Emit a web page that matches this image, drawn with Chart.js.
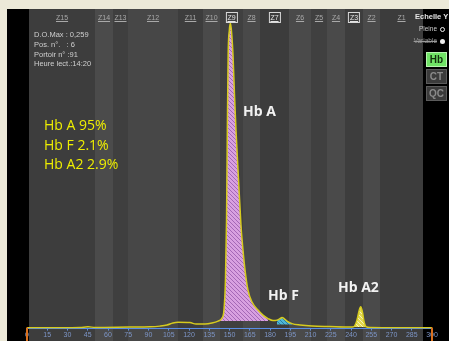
<!DOCTYPE html>
<html>
<head>
<meta charset="utf-8">
<script src="https://cdn.jsdelivr.net/npm/chart.js@4"></script>
<style>
  html, body { margin: 0; padding: 0; background: #000000; overflow: hidden; }
  #wrap { position: relative; width: 449px; height: 341px; overflow: hidden; background: #000000; }
  canvas { position: absolute; left: 0; top: 0; width: 449px; height: 341px; }
  .t { position: absolute; white-space: pre; line-height: 1; }
  .info { font-family: 'Liberation Sans', Arial, sans-serif; font-size: 7.5px; color: #cfcfcf; left: 34px; }
  .pct { font-family: 'Open Sans', sans-serif; font-size: 14px; color: #eeee00; left: 44px; }
  .peak { font-family: 'Open Sans', sans-serif; font-weight: bold; font-size: 14px; color: #f2f2f2; }
  .zone { font-family: 'Liberation Sans', Arial, sans-serif; font-size: 7px; color: #a9a9a9; text-decoration: underline; transform: translateX(-50%); top: 13.6px; }
  .zone.box { border: 1px solid #d8d8d8; padding: 1px 1px; color: #e4e4e4; top: 11.5px; }
  .side { font-family: 'Liberation Sans', Arial, sans-serif; }
  .btn { position: absolute; left: 426px; width: 19px; height: 13px; font-family: 'Liberation Sans', Arial, sans-serif;
         font-weight: bold; font-size: 10px; line-height: 13px; text-align: center; }
  .dot { position: absolute; border-radius: 50%; }
</style>
</head>
<body>
<div id="wrap">
  <canvas id="c" width="449" height="341"></canvas>

  <div class="t info" style="top:30.8px">D.O.Max : 0,259</div>
  <div class="t info" style="top:41.3px">Pos. n°.   : 6</div>
  <div class="t info" style="top:51px">Portoir n° :91</div>
  <div class="t info" style="top:60.3px">Heure lect.:14:20</div>

  <div class="t pct" style="top:117.6px">Hb A 95%</div>
  <div class="t pct" style="top:137.6px">Hb F 2.1%</div>
  <div class="t pct" style="top:156.6px">Hb A2 2.9%</div>

  <div class="t peak" style="left:243px; top:103.6px">Hb A</div>
  <div class="t peak" style="left:268px; top:288px">Hb F</div>
  <div class="t peak" style="left:338px; top:280px">Hb A2</div>

  <div class="t side" style="left:415px; top:13.3px; font-size:7.5px; font-weight:bold; color:#e6e6e6">Echelle Y</div>
  <div class="t side" style="right:12px; top:25.8px; font-size:6.5px; color:#cfcfcf">Pleine</div>
  <div class="dot" style="left:440px; top:27px; width:3px; height:3px; border:1px solid #eeeeee"></div>
  <div class="t side" style="right:12px; top:37.8px; font-size:6.5px; color:#9a9a9a; text-decoration:line-through">Variable</div>
  <div class="dot" style="left:440px; top:39px; width:5px; height:5px; background:#eeeeee"></div>

  <div class="btn" style="top:52px; background:#70e466; border:1px solid #b8f5b0; color:#12300c">Hb</div>
  <div class="btn" style="top:69px; background:#3b3b3b; border:1px solid #5c5c5c; color:#8a8a8a">CT</div>
  <div class="btn" style="top:86px; background:#3b3b3b; border:1px solid #5c5c5c; color:#8a8a8a">QC</div>
</div>

<script>
// migration position (x axis) and optical density of the trace
const positions = [0, 24.4, 39.3, 45.2, 50.4, 76.3, 91.1, 98.5, 103.7, 108.1, 111.9, 120.7, 125.2, 131.9, 137.0, 141.5,
  144.4, 145.9, 147.0, 147.8, 148.4, 149.0, 149.9, 150.7, 151.7, 152.6, 153.7, 154.8, 156.7, 158.5, 160.0, 161.5,
  163.7, 166.7, 171.1, 174.8, 178.5, 182.2, 185.2, 187.4, 188.9, 190.4, 192.6, 196.3, 202.2, 211.1, 224.4, 239.3,
  242.2, 244.4, 245.9, 247.2, 248.5, 249.6, 251.1, 254.1, 276.3, 300];
const density = [0.0008, 0.0008, 0.0010, 0.0015, 0.0010, 0.0013, 0.0015, 0.0021, 0.0030, 0.0047, 0.0053, 0.0051, 0.0038, 0.0038, 0.0047, 0.0064,
  0.0089, 0.0157, 0.0411, 0.0920, 0.1683, 0.2319, 0.2531, 0.2590, 0.2488, 0.2319, 0.1979, 0.1683, 0.1259, 0.0877, 0.0665, 0.0496,
  0.0326, 0.0225, 0.0157, 0.0114, 0.0085, 0.0068, 0.0072, 0.0085, 0.0095, 0.0085, 0.0064, 0.0042, 0.0030, 0.0021, 0.0017, 0.0013,
  0.0017, 0.0072, 0.0148, 0.0185, 0.0140, 0.0064, 0.0017, 0.0010, 0.0008, 0.0008];

// integrated fractions: [from, to, floor]
const hbA = [141.5, 178.5, 0.0064];
const hbF = [185, 197, 0.0035];
const hbA2 = [242, 252, 0.0013];

// zones
const zoneNames = ['Z15', 'Z14', 'Z13', 'Z12', 'Z11', 'Z10', 'Z9', 'Z8', 'Z7', 'Z6', 'Z5', 'Z4', 'Z3', 'Z2', 'Z1'];
const zoneBounds = [1.5, 50.4, 63.7, 74.8, 111.9, 130.4, 143, 160, 172.6, 194.1, 210.4, 222.2, 235.6, 248.9, 261.5, 293.3];
const zoneColors = ['#3d3d3d', '#4b4b4b', '#3f3f3f', '#474747', '#3d3d3d', '#4a4a4a', '#404040', '#494949',
  '#3c3c3c', '#4a4a4a', '#404040', '#4a4a4a', '#3d3d3d', '#4a4a4a', '#3c3c3c'];
const boxedZones = ['Z9', 'Z7', 'Z3'];

const canvas = document.getElementById('c');
const ctx = canvas.getContext('2d');

function hatch(bg, line) {
  const p = document.createElement('canvas');
  p.width = 4; p.height = 4;
  const g = p.getContext('2d');
  g.fillStyle = bg;
  g.fillRect(0, 0, 4, 4);
  g.strokeStyle = line;
  g.lineWidth = 1;
  g.beginPath();
  g.moveTo(0, 0); g.lineTo(4, 4);
  g.moveTo(-1, 3); g.lineTo(1, 5);
  g.moveTo(3, -1); g.lineTo(5, 1);
  g.stroke();
  return ctx.createPattern(p, 'repeat');
}

const trace = positions.map((x, i) => ({ x: x, y: density[i] }));
function part(range) {
  return trace.filter(p => p.x >= range[0] && p.x <= range[1]);
}

const backdrop = {
  id: 'backdrop',
  beforeDraw(chart) {
    const c = chart.ctx;
    const xs = chart.scales.x;
    c.save();
    c.fillStyle = '#ece9d8';
    c.fillRect(0, 0, 1000, 9);
    c.fillRect(0, 0, 7, 1000);
    c.fillStyle = '#000000';
    c.fillRect(7, 9, 1000, 1000);
    for (let i = 0; i < zoneNames.length; i++) {
      const a = Math.round(xs.getPixelForValue(zoneBounds[i]));
      const b = Math.round(xs.getPixelForValue(zoneBounds[i + 1]));
      c.fillStyle = zoneColors[i];
      c.fillRect(a, 9, b - a, 1000);
    }
    c.restore();
  },
  afterDraw(chart) {
    const c = chart.ctx;
    const xs = chart.scales.x;
    c.save();
    c.strokeStyle = '#d9701e';
    c.lineWidth = 2;
    [xs.min, xs.max].forEach(v => {
      const px = Math.round(xs.getPixelForValue(v));
      c.beginPath();
      c.moveTo(px, chart.chartArea.bottom - 1);
      c.lineTo(px, chart.height);
      c.stroke();
    });
    c.restore();
  }
};

const chart = new Chart(ctx, {
  type: 'line',
  data: {
    datasets: [
      {
        data: trace,
        borderColor: '#d6cb1e',
        borderWidth: 1.5,
        pointRadius: 0,
        fill: false,
        cubicInterpolationMode: 'monotone'
      },
      {
        data: part(hbA),
        borderWidth: 0,
        pointRadius: 0,
        backgroundColor: hatch('#d8a0e0', '#a468b6'),
        fill: { value: hbA[2] },
        cubicInterpolationMode: 'monotone'
      },
      {
        data: part(hbF),
        borderWidth: 0,
        pointRadius: 0,
        backgroundColor: hatch('#4fb8d8', '#2a7ea6'),
        fill: { value: hbF[2] },
        cubicInterpolationMode: 'monotone'
      },
      {
        data: part(hbA2),
        borderWidth: 0,
        pointRadius: 0,
        backgroundColor: hatch('#e2d850', '#f8f3c0'),
        fill: { value: hbA2[2] },
        cubicInterpolationMode: 'monotone'
      }
    ]
  },
  options: {
    responsive: false,
    animation: false,
    devicePixelRatio: 1,
    layout: { padding: { left: 27, right: 17, top: 10, bottom: 2 } },
    plugins: {
      legend: { display: false },
      tooltip: { enabled: false }
    },
    scales: {
      x: {
        type: 'linear',
        min: 0,
        max: 300,
        grid: { drawOnChartArea: false, drawTicks: true, tickLength: 2, color: '#5f8fe0' },
        border: { display: true, color: '#5a8ee6', width: 1 },
        ticks: {
          stepSize: 15,
          autoSkip: false,
          maxRotation: 0,
          padding: 0,
          color: '#7d95c6',
          font: { size: 7, family: "'Liberation Sans', Arial, sans-serif" }
        }
      },
      y: { display: false, min: 0, max: 0.27 }
    }
  },
  plugins: [backdrop]
});

// zone labels along the top, placed from the x scale
const wrap = document.getElementById('wrap');
zoneNames.forEach((name, i) => {
  const mid = (zoneBounds[i] + zoneBounds[i + 1]) / 2;
  const el = document.createElement('div');
  el.className = 't zone' + (boxedZones.includes(name) ? ' box' : '');
  el.textContent = name;
  el.style.left = chart.scales.x.getPixelForValue(mid) + 'px';
  wrap.appendChild(el);
});
</script>
</body>
</html>
